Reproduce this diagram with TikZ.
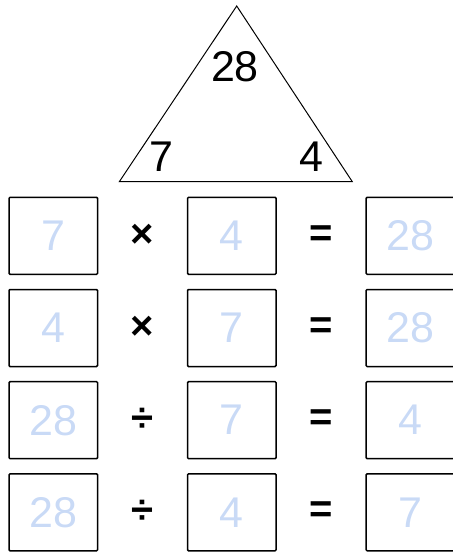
\documentclass[tikz,border=0pt]{standalone}
\usepackage{fontspec}
\setmainfont{Liberation Sans}
\definecolor{lightnum}{RGB}{201,218,246}
\begin{document}
\begin{tikzpicture}[x=1pt,y=-1pt,
  numbox/.style={draw=black, line width=1.5pt, rounded corners=1pt, minimum width=88.5pt, minimum height=77pt, inner sep=0pt, text=lightnum, font=\fontsize{43}{43}\selectfont},
  opsym/.style={inner sep=0pt, font=\fontsize{40}{40}\selectfont\bfseries},
  tnum/.style={inner sep=0pt, font=\fontsize{43}{43}\selectfont}]
\useasboundingbox (0,0) rectangle (452,553);
% triangle
\coordinate (apex) at (236.7,6);
\coordinate (bl) at (119.3,181.7);
\coordinate (br) at (352.3,181.7);
\draw[line width=1pt, line join=miter] (apex) -- (bl) -- (br) -- cycle;
\node[tnum] (t28) at (235,67) {28};
\node[tnum] (t7) at (161,157) {7};
\node[tnum] (t4) at (311,157) {4};
% rows
\foreach \r/\a/\op/\b/\c [count=\i] in {235.8/7/\texttimes/4/28, 328.0/4/\texttimes/7/28, 420.2/28/\textdiv/7/4, 512.3/28/\textdiv/4/7}{
  \node[numbox] (a\i) at (53.3,\r) {\a};
  \node[opsym] (op\i) at (142,\r) {\op};
  \node[numbox] (b\i) at (231.8,\r) {\b};
  \node[opsym] (eq\i) at (321.5,\r) {=};
  \node[numbox] (c\i) at (410.4,\r) {\c};
}
\end{tikzpicture}
\end{document}
